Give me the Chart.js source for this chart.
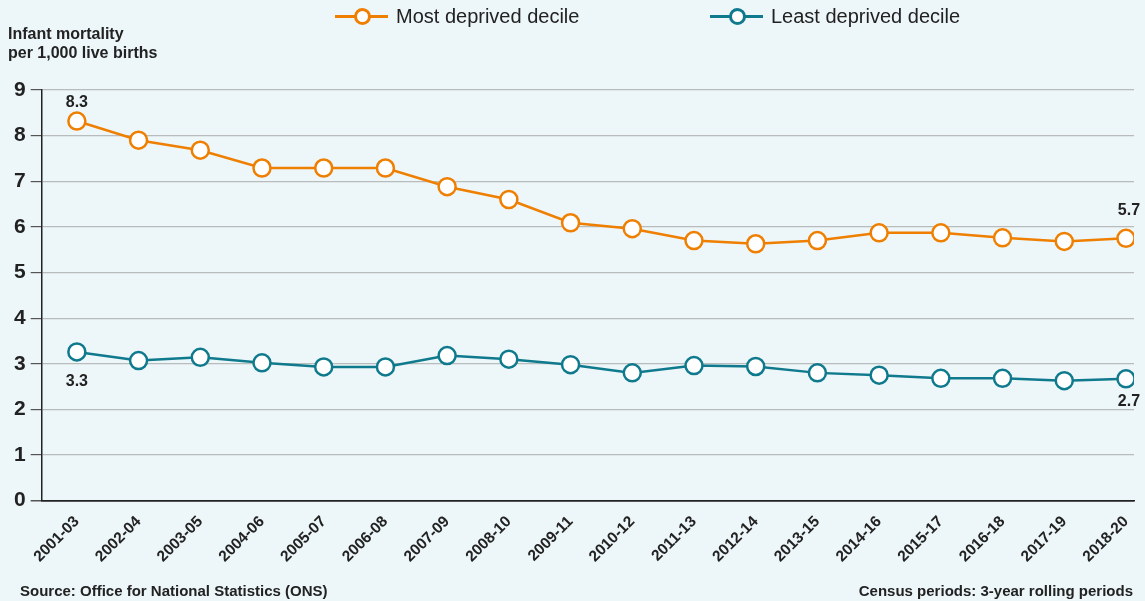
<!DOCTYPE html>
<html>
<head>
<meta charset="utf-8">
<script src="https://cdn.jsdelivr.net/npm/chart.js@4"></script>
<style>
    body { margin: 0; background: #edf6f8; font-family: 'Liberation Sans', Arial, sans-serif; }
    #wrap { position: relative; width: 1145px; height: 601px; background: #edf6f8; }
    #chart { position: absolute; left: 0; top: 0; }
    .ytitle { position: absolute; left: 8px; top: 24px; font-size: 16px; font-weight: bold; color: #222; line-height: 19px; }
    .legend-item { position: absolute; top: 5px; font-size: 20px; color: #222; display: flex; align-items: center; }
    .legend-mark { position: relative; width: 53px; height: 3px; margin-right: 8px; }
    .legend-mark span { position: absolute; left: 19px; top: -7px; width: 11px; height: 11px; border-radius: 50%; background: #fff; border: 3px solid; }
    .foot { position: absolute; top: 582px; font-size: 15px; font-weight: bold; color: #222; }
</style>
</head>
<body>
<div id="wrap">
    <canvas id="chart" width="1145" height="601"></canvas>
    <div class="ytitle">Infant mortality<br>per 1,000 live births</div>
    <div class="legend-item" style="left:335px">
        <div class="legend-mark" style="background:#ef7f00"><span style="border-color:#ef7f00"></span></div>Most deprived decile
    </div>
    <div class="legend-item" style="left:710px">
        <div class="legend-mark" style="background:#0f7a8d"><span style="border-color:#0f7a8d"></span></div>Least deprived decile
    </div>
    <div class="foot" style="left:20px">Source: Office for National Statistics (ONS)</div>
    <div class="foot" style="right:12px">Census periods: 3-year rolling periods</div>
</div>
<script>
const periods = ['2001-03', '2002-04', '2003-05', '2004-06', '2005-07', '2006-08', '2007-09', '2008-10', '2009-11',
    '2010-12', '2011-13', '2012-14', '2013-15', '2014-16', '2015-17', '2016-18', '2017-19', '2018-20'];
const mostDeprived = [8.32, 7.9, 7.68, 7.29, 7.29, 7.29, 6.88, 6.6, 6.09, 5.96, 5.7, 5.63, 5.7, 5.87, 5.87, 5.76, 5.68, 5.75];
const leastDeprived = [3.26, 3.07, 3.14, 3.02, 2.93, 2.93, 3.18, 3.1, 2.98, 2.8, 2.96, 2.94, 2.8, 2.75, 2.68, 2.68, 2.63, 2.67];
const yTicks = [0, 1, 2, 3, 4, 5, 6, 7, 8, 9];
// end labels: [dataset, index, text]
const endLabels = [[0, 0, '8.3'], [0, 17, '5.7'], [1, 0, '3.3'], [1, 17, '2.7']];

const ORANGE = '#ef7f00';
const TEAL = '#0f7a8d';

const toPoints = arr => arr.map((v, i) => ({ x: i, y: v }));

// offsets of the end labels from their points, same order as endLabels
const labelShift = [[0, -18], [3, -28], [0, 30], [3, 23]];

const endLabelPlugin = {
    id: 'endLabels',
    afterDatasetsDraw(chart) {
        const ctx = chart.ctx;
        ctx.save();
        ctx.font = 'bold 16px "Liberation Sans", Arial, sans-serif';
        ctx.fillStyle = '#222';
        ctx.textAlign = 'center';
        ctx.textBaseline = 'middle';
        endLabels.forEach(([ds, idx, text], i) => {
            const pt = chart.getDatasetMeta(ds).data[idx];
            ctx.fillText(text, pt.x + labelShift[i][0], pt.y + labelShift[i][1]);
        });
        ctx.restore();
    }
};

Chart.defaults.font.family = "'Liberation Sans', Arial, sans-serif";
Chart.defaults.color = '#222';

new Chart(document.getElementById('chart'), {
    type: 'line',
    data: {
        datasets: [{
            label: 'Most deprived decile',
            data: toPoints(mostDeprived),
            borderColor: ORANGE,
            pointBorderColor: ORANGE,
            pointBackgroundColor: '#fff',
            borderWidth: 2.5,
            pointRadius: 8.5,
            pointBorderWidth: 2.5,
            tension: 0
        }, {
            label: 'Least deprived decile',
            data: toPoints(leastDeprived),
            borderColor: TEAL,
            pointBorderColor: TEAL,
            pointBackgroundColor: '#fff',
            borderWidth: 2.5,
            pointRadius: 8.5,
            pointBorderWidth: 2.5,
            tension: 0
        }]
    },
    options: {
        responsive: false,
        animation: false,
        layout: { padding: { top: 90, left: 9, right: 11, bottom: 31 } },
        plugins: {
            legend: { display: false },
            tooltip: { enabled: false }
        },
        scales: {
            x: {
                type: 'linear',
                min: -0.57,
                max: 17.13,
                grid: { display: false },
                border: { color: '#222', width: 1.5 },
                ticks: {
                    stepSize: 1,
                    includeBounds: false,
                    autoSkip: false,
                    minRotation: 45,
                    maxRotation: 45,
                    padding: 4,
                    font: { size: 15.5, weight: 'bold' },
                    callback: v => Number.isInteger(v) ? periods[v] : ''
                }
            },
            y: {
                min: 0,
                max: 9,
                afterBuildTicks: axis => { axis.ticks = yTicks.map(v => ({ value: v })); },
                grid: {
                    color: c => c.tick && c.tick.value === 0 ? '#222' : '#b9bcbd',
                    lineWidth: c => c.tick && c.tick.value === 0 ? 1.5 : 1.2,
                    tickColor: '#555',
                    tickLength: 11
                },
                border: { color: '#222', width: 1.5 },
                ticks: {
                    padding: 5,
                    font: { size: 21, weight: 'bold' }
                }
            }
        }
    },
    plugins: [endLabelPlugin]
});
</script>
</body>
</html>
